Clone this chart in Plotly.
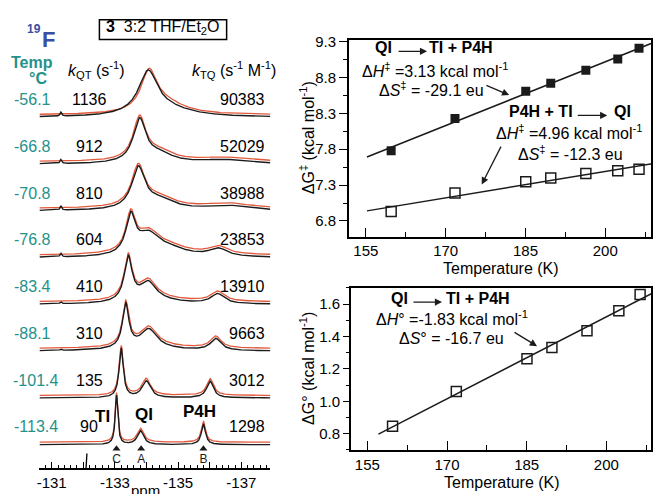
import numpy as np
import plotly.graph_objects as go

W, H = 653, 494
FONT = "Arial, 'Liberation Sans', sans-serif"
BLACK = "#1b1b1b"
RED = "#e2583b"
TEAL = "#25918b"
BLUE = "#3a4ea2"

# ---------------- data ----------------
temps_C = [-56.1, -66.8, -70.8, -76.8, -83.4, -88.1, -101.4, -113.4]
temp_labels = ["-56.1", "-66.8", "-70.8", "-76.8", "-83.4", "-88.1", "-101.4", "-113.4"]
k_QT = [1136, 912, 810, 604, 410, 310, 135, 90]
k_TQ = [90383, 52029, 38988, 23853, 13910, 9663, 3012, 1298]

# 19F line lists for each spectrum: (shift / ppm, height, half width / ppm)
exp_lines = [
    [(-134.05, 42, 0.36), (-134.6, 8, 1.0), (-131.29, 4, 0.03)],
    [(-133.78, 43, 0.24), (-134.4, 9, 0.55), (-136.45, 4, 0.9), (-131.29, 4, 0.03)],
    [(-133.74, 41, 0.25), (-134.4, 10, 0.6), (-136.55, 5, 0.8), (-131.29, 4, 0.03)],
    [(-133.5, 38, 0.18), (-134.05, 20, 0.4), (-134.7, 8, 0.7), (-136.27, 8, 0.35), (-131.29, 3.5, 0.03)],
    [(-133.42, 44, 0.15), (-134.05, 18, 0.3), (-134.2, 4, 1.0), (-136.25, 10, 0.25), (-131.29, 2, 0.03)],
    [(-133.34, 44, 0.12), (-134.07, 18, 0.3), (-134.0, 4, 1.0), (-136.19, 12, 0.2), (-131.29, 1.5, 0.03)],
    [(-133.2, 50, 0.08), (-133.99, 17, 0.16), (-136.01, 17, 0.13)],
    [(-133.05, 50, 0.05), (-133.81, 14, 0.12), (-135.8, 21, 0.08)],
]
sim_lines = [
    [(-134.08, 40, 0.3), (-134.6, 11, 0.75)],
    [(-133.78, 43, 0.24), (-134.4, 9, 0.55), (-136.45, 4, 0.9)],
    [(-133.74, 41, 0.25), (-134.4, 10, 0.6), (-136.55, 5, 0.8)],
    [(-133.5, 38, 0.18), (-134.05, 20, 0.4), (-134.7, 8, 0.7), (-136.27, 8, 0.35)],
    [(-133.42, 44, 0.15), (-134.05, 18, 0.3), (-134.2, 4, 1.0), (-136.25, 10, 0.25)],
    [(-133.34, 44, 0.12), (-134.07, 18, 0.3), (-134.0, 4, 1.0), (-136.19, 12, 0.2)],
    [(-133.2, 50, 0.08), (-133.99, 17, 0.16), (-136.01, 17, 0.13)],
    [(-133.05, 50, 0.05), (-133.81, 14, 0.12), (-135.8, 21, 0.08)],
]
site_names = ["TI", "QI", "P4H"]
site_ppm = [-133.05, -133.83, -135.8]
site_letters = ["C", "A", "B"]
ref_ppm = -132.1
ppm_ticks = [-131, -132, -133, -134, -135, -136, -137]

# activation / reaction free energies (kcal/mol)
T_K = [round(t + 273.15, 2) for t in temps_C[1:]][::-1]
dG_QT = [7.78, 8.23, 8.61, 8.72, 8.90, 9.06, 9.21]
dG_TQ = [6.93, 7.19, 7.345, 7.40, 7.46, 7.50, 7.52]
dG0 = [0.846, 1.06, 1.263, 1.333, 1.436, 1.56, 1.66]

# ---------------- layout constants ----------------
PPM_L, PPM_R = -130.613, -137.918
STACK0, STACK_STEP, RED_LIFT = 24.0, 47.43, 2.5
TEXT_LIFT = 4  # annotation boxes sit slightly low relative to glyph centres


def px(x, y):
    return x / W, 1 - y / H


def lorentz_sum(lines, x):
    y = np.zeros_like(x)
    for c, h, w in lines:
        y += h / (1 + ((x - c) / w) ** 2)
    return y


fig = go.Figure()
ppm = np.linspace(PPM_L, PPM_R, 1800)
n = len(temps_C)
annotations = []


def ann(text, x, y, size=16, color="black", xanchor="center", textangle=0, **kw):
    xp, yp = px(x, y - (TEXT_LIFT if textangle == 0 else 0))
    d = dict(text=text, x=xp, y=yp, xref="paper", yref="paper", showarrow=False,
             xanchor=xanchor, yanchor="middle", textangle=textangle,
             font=dict(family=FONT, size=size, color=color))
    d.update(kw)
    annotations.append(d)


def arrow(hx, hy, tx, ty):
    xp, yp = px(hx, hy)
    annotations.append(dict(text="", x=xp, y=yp, xref="paper", yref="paper",
                            showarrow=True, ax=tx - hx, ay=ty - hy, axref="pixel", ayref="pixel",
                            arrowhead=2, arrowsize=1.1, arrowwidth=1.3, arrowcolor=BLACK,
                            standoff=0, startstandoff=0))


# ---------------- stacked spectra ----------------
for i in range(n):
    base = STACK0 + STACK_STEP * (n - 1 - i)
    fig.add_trace(go.Scatter(x=ppm, y=base + RED_LIFT + lorentz_sum(sim_lines[i], ppm),
                             mode="lines", line=dict(color=RED, width=1.3),
                             xaxis="x", yaxis="y", hoverinfo="skip", showlegend=False))
    fig.add_trace(go.Scatter(x=ppm, y=base + lorentz_sum(exp_lines[i], ppm),
                             mode="lines", line=dict(color=BLACK, width=1.4),
                             xaxis="x", yaxis="y", hoverinfo="skip", showlegend=False))
    lab_y = base + 14 + TEXT_LIFT
    right_edge = 57 if len(temp_labels[i]) > 5 else 50
    annotations.append(dict(text=temp_labels[i], x=right_edge / W, y=lab_y, xref="paper", yref="y",
                            showarrow=False, xanchor="right", yanchor="middle",
                            font=dict(family=FONT, size=16, color=TEAL)))
    annotations.append(dict(text=str(k_QT[i]), x=87 / W, y=lab_y, xref="paper", yref="y",
                            showarrow=False, xanchor="center", yanchor="middle",
                            font=dict(family=FONT, size=16, color="black")))
    annotations.append(dict(text=str(k_TQ[i]), x=266 / W, y=lab_y, xref="paper", yref="y",
                            showarrow=False, xanchor="right", yanchor="middle",
                            font=dict(family=FONT, size=16, color="black")))

# site markers below the lowest spectrum
fig.add_trace(go.Scatter(x=site_ppm, y=[20] * 3, mode="markers+text",
                         marker=dict(symbol="triangle-up", size=7, color=BLACK),
                         text=site_letters, textposition="bottom center",
                         textfont=dict(family=FONT, size=12, color=BLACK),
                         xaxis="x", yaxis="y", hoverinfo="skip", showlegend=False))
site_label_pos = [(100, 419), (142, 417), (198, 414)]
for name, (lx, ly) in zip(site_names, site_label_pos):
    ann("<b>%s</b>" % name, lx, ly, size=17)

# ---------------- ΔG‡ vs T ----------------
fit_x = np.array([155.2, 210.0])
p1 = np.polyfit(T_K, dG_QT, 1)
p2 = np.polyfit(T_K, dG_TQ, 1)
fig.add_trace(go.Scatter(x=fit_x, y=np.polyval(p1, fit_x), mode="lines",
                         line=dict(color=BLACK, width=1.5), xaxis="x2", yaxis="y2",
                         showlegend=False, hoverinfo="skip"))
fig.add_trace(go.Scatter(x=fit_x, y=np.polyval(p2, fit_x), mode="lines",
                         line=dict(color=BLACK, width=1.5), xaxis="x2", yaxis="y2",
                         showlegend=False, hoverinfo="skip"))
fig.add_trace(go.Scatter(x=T_K, y=dG_QT, mode="markers",
                         marker=dict(symbol="square", size=9, color=BLACK),
                         xaxis="x2", yaxis="y2", showlegend=False))
fig.add_trace(go.Scatter(x=T_K, y=dG_TQ, mode="markers",
                         marker=dict(symbol="square-open", size=10, color=BLACK, line=dict(width=1.5)),
                         xaxis="x2", yaxis="y2", showlegend=False))

# ---------------- ΔG° vs T ----------------
fit_x0 = np.array([157.1, 210.0])
p0 = np.polyfit(T_K, dG0, 1)
fig.add_trace(go.Scatter(x=fit_x0, y=np.polyval(p0, fit_x0), mode="lines",
                         line=dict(color=BLACK, width=1.5), xaxis="x3", yaxis="y3",
                         showlegend=False, hoverinfo="skip"))
fig.add_trace(go.Scatter(x=T_K, y=dG0, mode="markers",
                         marker=dict(symbol="square-open", size=10, color=BLACK, line=dict(width=1.5)),
                         xaxis="x3", yaxis="y3", showlegend=False))

# ---------------- text ----------------
ann("<b>19</b>", 31, 26, size=12, color=BLUE)
ann("<b>F</b>", 46, 37, size=22, color=BLUE)
ann("<b>Temp</b>", 29, 60, size=16, color=TEAL)
ann("<b>°C</b>", 35, 77, size=16, color=TEAL)
ann("<b>3</b>  3:2 THF/Et<sub>2</sub>O", 161, 25, size=16)
ann("<i>k</i><sub>QT</sub> (s<sup>-1</sup>)", 94, 68, size=16)
ann("<i>k</i><sub>TQ</sub> (s<sup>-1</sup> M<sup>-1</sup>)", 232, 68, size=16)
ann("ppm", 143, 494, size=15)

ann("<b>QI</b>", 382.5, 45)
arrow(426.7, 45, 396.7, 45)
ann("<b>TI + P4H</b>", 461, 45)
ann("Δ<i>H</i><sup>‡</sup> =3.13 kcal mol<sup>-1</sup>", 435.5, 68)
ann("Δ<i>S</i><sup>‡</sup> = -29.1 eu", 431.5, 87)
arrow(509.3, 89.3, 485, 79)
ann("<b>P4H + TI</b>", 541, 110)
arrow(608, 110, 577, 110)
ann("<b>QI</b>", 623.5, 110)
ann("Δ<i>H</i><sup>‡</sup> =4.96 kcal mol<sup>-1</sup>", 570, 131)
ann("Δ<i>S</i><sup>‡</sup> = -12.3 eu", 570.5, 152)
arrow(481.7, 180, 501.7, 140.7)

ann("<b>QI</b>", 399, 299.3)
arrow(441.7, 299.3, 411.7, 299.3)
ann("<b>TI + P4H</b>", 477.5, 299.3)
ann("Δ<i>H</i>° =-1.83 kcal mol<sup>-1</sup>", 451.7, 319)
ann("Δ<i>S</i>° = -16.7 eu", 451, 340.7)
arrow(537.3, 344, 513.3, 329.3)

ann("Temperature (K)", 501, 269)
ann("Temperature (K)", 501.7, 486)
ann("ΔG<sup>‡</sup> (kcal mol<sup>-1</sup>)", 306, 133, textangle=-90)
ann("ΔG° (kcal mol<sup>-1</sup>)", 306, 367, textangle=-90)

shapes = [
    dict(type="rect", xref="paper", yref="paper",
         x0=97 / W, x1=225 / W, y0=1 - 33 / H, y1=1 - 13 / H,
         line=dict(color="black", width=1.5)),
    dict(type="line", xref="x", yref="y", x0=ref_ppm + 0.015, x1=ref_ppm - 0.015, y0=0, y1=15,
         line=dict(color="black", width=1.3)),
]

tickfont = dict(family=FONT, size=15, color="black")
common = dict(showgrid=False, zeroline=False, showline=True, linecolor="black", linewidth=1.5,
              tickcolor="black", tickfont=tickfont)

fig.update_layout(
    width=W, height=H, margin=dict(l=0, r=0, t=0, b=0),
    paper_bgcolor="white", plot_bgcolor="rgba(0,0,0,0)",
    font=dict(family=FONT, color="black"),
    showlegend=False,
    xaxis=dict(domain=[36.7 / W, 269 / W], range=[PPM_L, PPM_R], anchor="y",
               tickvals=ppm_ticks,
               ticktext=[str(t) if t % 2 else "" for t in ppm_ticks],
               ticks="inside", ticklen=7, tickwidth=1.2,
               minor=dict(dtick=0.2, tick0=-131, ticks="inside", ticklen=4, tickwidth=1, tickcolor="black"),
               **common),
    yaxis=dict(domain=[26 / H, 1], range=[0, 468], visible=False, anchor="x"),
    xaxis2=dict(domain=[348 / W, 652 / W], range=[151.8, 208.6], anchor="y2",
                tick0=155, dtick=15, ticks="inside", ticklen=9, tickwidth=1.2, mirror=True,
                minor=dict(dtick=7.5, tick0=155, ticks="inside", ticklen=5, tickwidth=1.2, tickcolor="black"),
                **common),
    yaxis2=dict(domain=[261 / H, 461 / H], range=[6.58, 9.33], anchor="x2",
                tick0=6.8, dtick=0.5, ticks="outside", ticklen=8, tickwidth=1.2, mirror=True,
                tickformat=".1f",
                minor=dict(dtick=0.25, tick0=6.8, ticks="outside", ticklen=4, tickwidth=1.2, tickcolor="black"),
                **common),
    xaxis3=dict(domain=[350 / W, 652 / W], range=[151.9, 208.4], anchor="y3",
                tick0=155, dtick=15, ticks="inside", ticklen=9, tickwidth=1.2, mirror=True,
                minor=dict(dtick=7.5, tick0=155, ticks="inside", ticklen=5, tickwidth=1.2, tickcolor="black"),
                **common),
    yaxis3=dict(domain=[(H - 449.3) / H, (H - 285) / H], range=[0.70, 1.70], anchor="x3",
                tick0=0.8, dtick=0.2, ticks="outside", ticklen=6, tickwidth=1.2, mirror=True,
                tickformat=".1f",
                minor=dict(dtick=0.1, tick0=0.8, ticks="outside", ticklen=3, tickwidth=1.2, tickcolor="black"),
                **common),
    annotations=annotations,
    shapes=shapes,
)

fig.write_html("out.html")
